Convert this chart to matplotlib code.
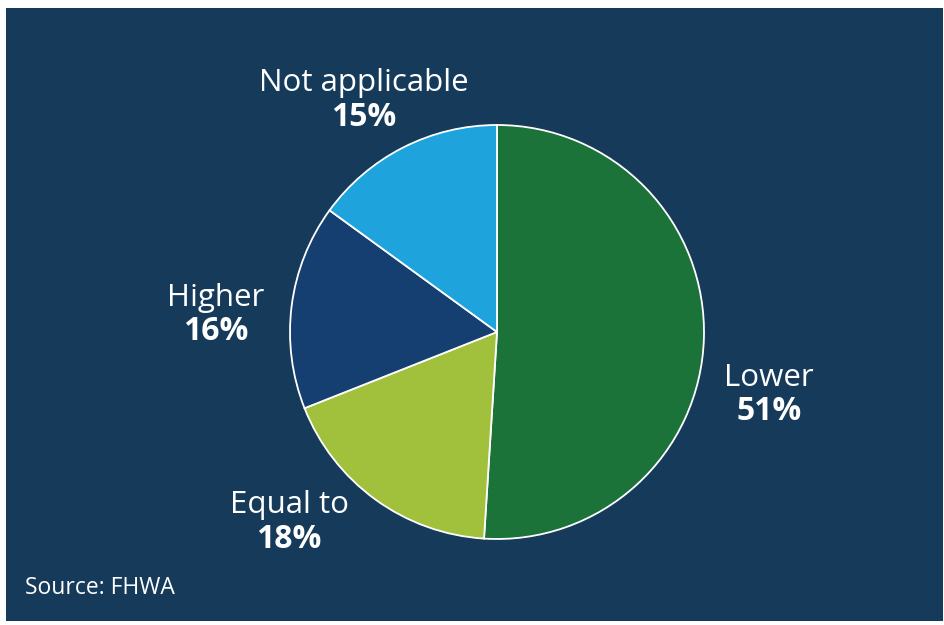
import matplotlib.pyplot as plt
from matplotlib.patches import Rectangle

labels = ["Lower", "Equal to", "Higher", "Not applicable"]
shares = [51, 18, 16, 15]
colors = ["#1b7339", "#a1c03b", "#143f70", "#1fa3dc"]

# label anchor points (pixel units, y from the bottom)
label_xy = [(769, 232), (289, 105), (216, 312), (364, 527)]

W, H = 944, 625
bg = "#153a5a"

plt.rcParams['font.family'] = ['Open Sans', 'DejaVu Sans']

fig = plt.figure(figsize=(W / 100, H / 100), dpi=100)
fig.patch.set_facecolor("white")
ax = fig.add_axes([0, 0, 1, 1])
ax.set_xlim(0, W)
ax.set_ylim(0, H)
ax.set_aspect("equal")
ax.axis("off")

ax.add_patch(Rectangle((6, 4), W - 7, H - 12, facecolor=bg, edgecolor="none", zorder=0))

ax.pie(shares, colors=colors, startangle=90, counterclock=False,
       center=(497, 293), radius=207, frame=True,
       wedgeprops=dict(edgecolor="white", linewidth=1.3))
ax.set_xlim(0, W)
ax.set_ylim(0, H)
ax.axis("off")

for name, v, (x, y) in zip(labels, shares, label_xy):
    ax.text(x, y + 15, name, color="white", fontsize=22.5, ha="center", va="center")
    ax.text(x, y - 19, f"{v}%", color="white", fontsize=23, fontweight="bold",
            ha="center", va="center")

ax.text(25, 37, "Source: FHWA", color="white", fontsize=16.5, ha="left", va="center")

fig.savefig("out.png", dpi=100, facecolor=fig.get_facecolor())
